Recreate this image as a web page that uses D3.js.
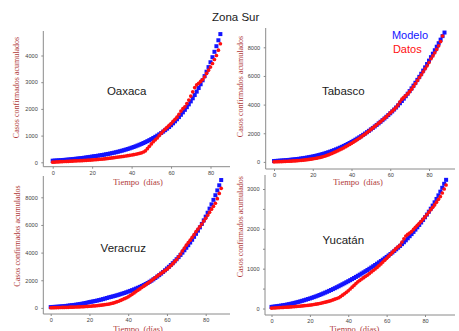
<!DOCTYPE html>
<html><head><meta charset="utf-8">
<script src="https://cdn.jsdelivr.net/npm/d3@7"></script>
<style>body{margin:0;background:#fff}svg{display:block}</style>
</head><body><svg id="c" width="459" height="331"></svg>
<script>
const chartTitle = "Zona Sur";
const states = ["Oaxaca", "Tabasco", "Veracruz", "Yucatán"];
const legendLabels = ["Modelo", "Datos"];
const xLabel = "Tiempo  (días)";
const yLabel = "Casos confirmados acumulados";
const xTicks = [0, 20, 40, 60, 80];
const yTicksOaxaca = [0, 1000, 2000, 3000, 4000];
const yTicksTabasco = [0, 2000, 4000, 6000, 8000];
const yTicksVeracruz = [0, 2000, 4000, 6000, 8000];
const yTicksYucatan = [0, 500, 1000, 1500, 2000, 2500, 3000];

const oaxacaModelo = [60,64,69,74,79,85,91,97,104,111,119,127,135,143,152,161,171,181,192,203,215,226,236,248,259,272,285,298,313,327,343,359,376,394,413,433,453,475,497,521,546,572,599,628,658,689,722,756,792,830,869,911,954,999,1047,1097,1149,1204,1261,1321,1388,1459,1533,1611,1693,1779,1870,1965,2065,2170,2281,2397,2519,2647,2782,2923,3072,3228,3393,3565,3747,3937,4138,4348,4570,4802];
const oaxacaDatos = [5,10,14,18,22,26,30,34,38,42,46,50,54,58,62,66,70,74,79,84,90,96,102,108,114,120,128,136,145,155,165,175,185,195,205,215,225,236,248,260,273,287,302,318,336,356,385,430,510,600,690,770,840,910,1000,1090,1170,1240,1310,1380,1450,1530,1610,1690,1800,1920,2010,2080,2200,2330,2480,2640,2800,2900,2960,3030,3100,3200,3330,3450,3570,3700,3850,4000,4200,4440];
const tabascoModelo = [60,68,77,87,97,108,119,131,143,156,170,185,201,218,237,257,279,302,326,352,379,408,440,473,509,547,587,629,674,720,769,820,874,930,989,1050,1114,1180,1249,1320,1394,1470,1549,1630,1714,1800,1889,1980,2074,2170,2269,2370,2474,2580,2689,2800,2914,3030,3149,3270,3394,3522,3656,3796,3942,4094,4252,4416,4586,4762,4944,5132,5325,5524,5728,5938,6153,6374,6600,6832,7069,7310,7552,7795,8040,8286,8533,8781,9030];
const tabascoDatos = [5,10,15,20,26,32,38,45,52,60,68,77,87,98,110,123,137,152,170,190,212,236,262,290,320,355,395,440,490,545,600,660,722,785,850,915,985,1060,1140,1220,1300,1385,1470,1560,1650,1745,1845,1945,2050,2155,2265,2370,2480,2590,2700,2810,2925,3040,3160,3290,3420,3540,3660,3800,3980,4200,4380,4500,4620,4760,4900,5080,5270,5470,5680,5880,6080,6290,6500,6710,6940,7200,7400,7620,7850,8100,8400,8790];
const veracruzModelo = [60,67,75,83,93,104,116,129,144,161,180,196,213,232,252,275,299,325,354,385,420,446,473,502,532,565,599,636,675,716,760,794,830,867,906,947,990,1034,1081,1129,1180,1231,1284,1339,1397,1457,1520,1586,1654,1725,1800,1885,1973,2066,2163,2265,2371,2483,2600,2722,2850,2973,3102,3236,3375,3521,3673,3832,3997,4170,4350,4535,4729,4930,5140,5359,5587,5825,6073,6332,6600,6884,7181,7490,7813,8149,8500,8867,9249];
const veracruzDatos = [10,13,17,20,24,28,32,36,40,45,50,55,60,65,71,77,84,92,100,110,120,130,141,153,166,180,198,218,240,260,280,310,345,385,430,480,540,600,665,730,800,890,985,1080,1180,1280,1375,1475,1570,1670,1770,1875,1980,2085,2190,2300,2400,2500,2600,2700,2800,2930,3060,3200,3350,3500,3700,3900,4120,4330,4540,4720,4900,5100,5300,5510,5700,5880,6070,6280,6480,6700,6920,7140,7350,7570,7900,8280,8650];
const yucatanModelo = [40,46,52,59,66,73,81,89,98,108,118,129,141,153,166,179,193,207,222,237,252,268,285,302,320,339,358,378,399,420,442,464,487,510,534,558,583,608,633,659,685,711,738,765,793,821,849,878,907,937,967,997,1028,1060,1092,1125,1158,1191,1225,1260,1295,1331,1368,1406,1445,1486,1528,1571,1616,1663,1712,1763,1815,1868,1923,1980,2038,2098,2160,2224,2290,2358,2430,2505,2583,2665,2750,2840,2933,3030,3130,3230];
const yucatanDatos = [10,13,16,19,22,25,28,31,34,37,40,44,48,52,56,60,65,70,75,80,85,92,100,108,116,125,136,148,160,172,185,200,216,233,251,270,300,335,370,405,445,490,535,580,625,670,705,740,775,808,840,878,916,954,992,1030,1075,1120,1165,1212,1260,1310,1360,1410,1460,1510,1550,1590,1670,1750,1820,1860,1895,1930,1985,2040,2090,2140,2190,2245,2300,2360,2420,2480,2540,2600,2670,2740,2810,2900,3000,3100];

const BLUE = "#1414ff", RED = "#ff1010", AXIS = "#8a8a8a", TICKTXT = "#444", LABEL = "#b03a3a";
const SANS = "'Liberation Sans', Arial, sans-serif", SERIF = "'Liberation Serif', 'Times New Roman', serif";

const panels = [
  {name: states[0], modelo: oaxacaModelo, datos: oaxacaDatos, yTicks: yTicksOaxaca, yLab: v => v % 1000 === 0,
   spineX: 43.3, spineY: 166.7, top: 31, right: 230, xr: [52.7, 210.5], ydom: [0, 4000], yr: [162.3, 55.5],
   ylabPos: [16.7, 87.5], xlabPos: [138, 184.5], namePos: [126.7, 94.5]},
  {name: states[1], modelo: tabascoModelo, datos: tabascoDatos, yTicks: yTicksTabasco, yLab: v => true,
   spineX: 265.7, spineY: 169, top: 28, right: 455, xr: [274, 429], ydom: [0, 8000], yr: [161.9, 47.3],
   ylabPos: [240.7, 86.5], xlabPos: [358, 184.5], namePos: [343.3, 95]},
  {name: states[2], modelo: veracruzModelo, datos: veracruzDatos, yTicks: yTicksVeracruz, yLab: v => true,
   spineX: 43.3, spineY: 314, top: 176, right: 230, xr: [50.7, 205.7], ydom: [0, 8000], yr: [307.9, 197.3],
   ylabPos: [17.3, 236], xlabPos: [138, 332], namePos: [123.3, 252.3]},
  {name: states[3], modelo: yucatanModelo, datos: yucatanDatos, yTicks: yTicksYucatan, yLab: v => v % 1000 === 0,
   spineX: 265, spineY: 315, top: 175, right: 455, xr: [271.5, 425], ydom: [0, 3000], yr: [308.5, 189],
   ylabPos: [240.7, 226.7], xlabPos: [354.5, 332], namePos: [343.3, 244]}
];

const svg = d3.select("#c");

panels.forEach(p => {
  const g = svg.append("g");
  const x = d3.scaleLinear().domain([0, 80]).range(p.xr);
  const y = d3.scaleLinear().domain(p.ydom).range(p.yr);

  g.append("line").attr("x1", p.spineX).attr("x2", p.spineX).attr("y1", p.top).attr("y2", p.spineY)
    .attr("stroke", AXIS).attr("stroke-width", 1);
  g.append("line").attr("x1", p.spineX).attr("x2", p.right).attr("y1", p.spineY).attr("y2", p.spineY)
    .attr("stroke", AXIS).attr("stroke-width", 1);

  const xa = g.append("g").attr("transform", `translate(0,${p.spineY})`)
    .call(d3.axisBottom(x).tickValues(xTicks).tickSize(2).tickPadding(2.5));
  const ya = g.append("g").attr("transform", `translate(${p.spineX},0)`)
    .call(d3.axisLeft(y).tickValues(p.yTicks).tickSize(2).tickPadding(3.5)
      .tickFormat(v => p.yLab(v) ? String(v) : ""));
  [xa, ya].forEach(a => {
    a.select(".domain").remove();
    a.selectAll("line").attr("stroke", AXIS);
    a.selectAll("text").attr("fill", TICKTXT).style("font-family", SANS).style("font-size", "5.6px");
  });

  g.append("g").selectAll("rect").data(p.modelo).join("rect")
    .attr("x", (d, i) => x(i) - 2).attr("y", d => y(d) - 2)
    .attr("width", 4).attr("height", 4).attr("fill", BLUE);
  g.append("g").selectAll("circle").data(p.datos).join("circle")
    .attr("cx", (d, i) => x(i)).attr("cy", d => y(d)).attr("r", 1.85).attr("fill", RED);

  g.append("text").attr("transform", `translate(${p.ylabPos[0]},${p.ylabPos[1]}) rotate(-90)`)
    .attr("text-anchor", "middle").attr("dominant-baseline", "central")
    .style("font-family", SERIF).style("font-size", "8px").attr("fill", LABEL).text(yLabel);
  g.append("text").attr("x", p.xlabPos[0]).attr("y", p.xlabPos[1]).attr("text-anchor", "middle")
    .style("font-family", SERIF).style("font-size", "8.5px").attr("fill", LABEL)
    .style("white-space", "pre").text(xLabel);

  g.append("text").attr("x", p.namePos[0]).attr("y", p.namePos[1]).attr("text-anchor", "middle")
    .style("font-family", SANS).style("font-size", "11.5px").attr("fill", "#1a1a1a").text(p.name);
});

svg.append("text").attr("x", 235.7).attr("y", 21).attr("text-anchor", "middle")
  .style("font-family", SANS).style("font-size", "11.5px").attr("fill", "#1a1a1a").text(chartTitle);

svg.append("text").attr("x", 410).attr("y", 39).attr("text-anchor", "middle")
  .style("font-family", SANS).style("font-size", "11px").attr("fill", BLUE).text(legendLabels[0]);
svg.append("text").attr("x", 407.3).attr("y", 53).attr("text-anchor", "middle")
  .style("font-family", SANS).style("font-size", "11px").attr("fill", RED).text(legendLabels[1]);
</script>
</body></html>
